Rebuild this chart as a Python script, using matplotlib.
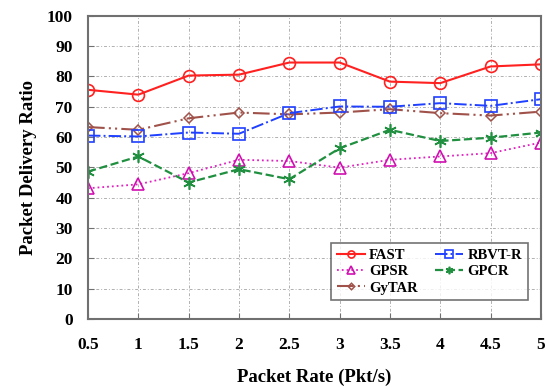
import matplotlib
matplotlib.use("Agg")
import matplotlib.pyplot as plt

# packet rate (Pkt/s)
rates = [0.5, 1, 1.5, 2, 2.5, 3, 3.5, 4, 4.5, 5]

# packet delivery ratio per protocol
fast = [75.6, 74.0, 80.3, 80.6, 84.6, 84.6, 78.3, 77.8, 83.3, 84.0]
gpsr = [43.1, 44.4, 48.1, 52.5, 52.1, 49.9, 52.5, 53.6, 54.7, 58.2]
gytar = [63.3, 62.4, 66.2, 68.1, 67.5, 68.1, 69.2, 67.9, 67.1, 68.4]
rbvt_r = [60.5, 60.2, 61.5, 61.1, 67.9, 70.1, 70.0, 71.2, 70.3, 72.5]
gpcr = [48.6, 53.6, 45.0, 49.4, 46.1, 56.3, 62.4, 58.7, 59.8, 61.5]

yticks = [0, 10, 20, 30, 40, 50, 60, 70, 80, 90, 100]

plt.rcParams["font.family"] = ["Liberation Serif", "DejaVu Serif"]
plt.rcParams["font.weight"] = "bold"

fig = plt.figure(figsize=(5.45, 3.87), dpi=100)
ax = fig.add_axes([0.1615, 0.176, 0.831, 0.783])

ax.plot(rates, fast, color="#ff2020", linestyle="-", lw=1.5,
        marker="o", ms=8.5, mfc="none", mec="#ff2020", mew=1.2, label="FAST")
ax.plot(rates, gpsr, color="#e020c0", linestyle=":", lw=1.3,
        marker="^", ms=8.5, mfc="none", mec="#d010b0", mew=1.2, label="GPSR")
ax.plot(rates, gytar, color="#a0524a", linestyle=(0, (8, 2, 1, 2, 1, 2)), lw=1.5,
        marker="D", ms=5.5, mfc="none", mec="#a0524a", mew=1.1, label="GyTAR")
ax.plot(rates, rbvt_r, color="#2040ff", linestyle="-.", lw=1.4,
        marker="s", ms=8.5, mfc="none", mec="#2040ff", mew=1.2, label="RBVT-R")
ax.plot(rates, gpcr, color="#209040", linestyle="--", lw=1.6,
        marker=(6, 2, 0), ms=9, mec="#209040", mew=1.2, label="GPCR")

ax.set_xlim(0.5, 5)
ax.set_ylim(0, 100)
ax.set_xticks(rates)
ax.set_xticklabels([f"{r:g}" for r in rates])
ax.set_yticks(yticks)

ax.grid(True, color="#b0b0b0", linestyle=(0, (3, 2, 1, 2)), lw=0.7)
ax.tick_params(direction="in", length=4, color="#707070", labelsize=12.5)
ax.tick_params(axis="x", pad=13)
ax.tick_params(axis="y", pad=11)
for lbl in ax.get_xticklabels() + ax.get_yticklabels():
    lbl.set_fontweight("bold")
for side in ["top", "right", "bottom", "left"]:
    ax.spines[side].set_color("#707070")
    ax.spines[side].set_linewidth(1.5)

ax.set_xlabel("Packet Rate (Pkt/s)", fontsize=13.5, fontweight="bold", labelpad=11)
ax.set_ylabel("Packet Delivery Ratio", fontsize=13.5, fontweight="bold", labelpad=7)

leg = ax.legend(loc="lower right", bbox_to_anchor=(0.987, 0.037), ncol=2,
                prop={"family": "Liberation Serif", "weight": "bold", "size": 10.5},
                frameon=True, fancybox=False, edgecolor="#505050",
                handlelength=1.9, handletextpad=0.3, columnspacing=1.2,
                labelspacing=0.2, borderpad=0.4, markerscale=0.6)
leg.get_frame().set_linewidth(1.2)

fig.savefig("out.png", dpi=100)
